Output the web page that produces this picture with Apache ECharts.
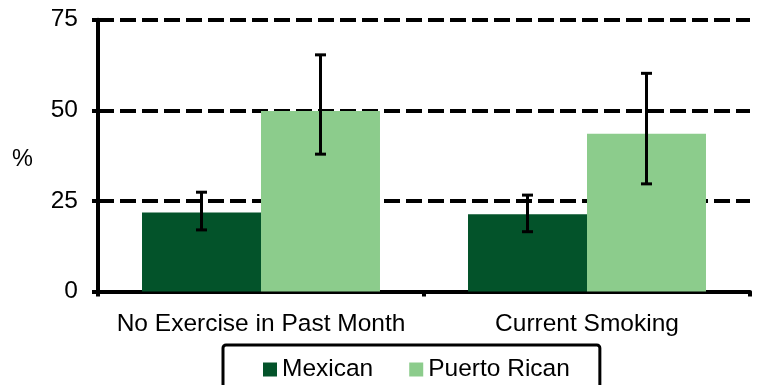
<!DOCTYPE html>
<html>
<head>
<meta charset="utf-8">
<script src="https://cdn.jsdelivr.net/npm/echarts@6/dist/echarts.min.js"></script>
<style>
  html, body { margin: 0; padding: 0; background: #fff; }
  #chart { width: 757px; height: 385px; }
</style>
</head>
<body>
<div id="chart"></div>
<script>
// Prevalence (%) by group, with 95% confidence limits
const categories = ['No Exercise in Past Month', 'Current Smoking'];
const seriesNames = ['Mexican', 'Puerto Rican'];
const mexican = [21.8, 21.3];
const mexicanLow = [17.0, 16.5];
const mexicanHigh = [27.4, 26.6];
const puertoRican = [49.8, 43.5];
const puertoRicanLow = [37.9, 29.7];
const puertoRicanHigh = [65.3, 60.2];
const yTicks = [0, 25, 50, 75];

const FONT = "'Liberation Sans', Arial, sans-serif";
const FS = 24.5;
const CAT_GAP = 0.27;

function errorData(low, high) {
  return categories.map((c, i) => [i, low[i], high[i]]);
}

// Whisker with caps, placed over the left (-1) or right (+1) bar of each group
function errorRenderer(side) {
  return function (params, api) {
    const cat = api.value(0);
    const lo = api.coord([cat, api.value(1)]);
    const hi = api.coord([cat, api.value(2)]);
    const band = api.size([1, 0])[0];
    const barW = band * (1 - CAT_GAP) / 2;
    const x = lo[0] + side * barW / 2;
    const cap = 5.5;
    const style = { stroke: '#000', lineWidth: 3 };
    return {
      type: 'group',
      children: [
        { type: 'line', shape: { x1: x, y1: hi[1], x2: x, y2: lo[1] }, style: style },
        { type: 'line', shape: { x1: x - cap, y1: hi[1], x2: x + cap, y2: hi[1] }, style: style },
        { type: 'line', shape: { x1: x - cap, y1: lo[1], x2: x + cap, y2: lo[1] }, style: style }
      ]
    };
  };
}

const chart = echarts.init(document.getElementById('chart'));
chart.setOption({
  animation: false,
  textStyle: { fontFamily: FONT },
  grid: { left: 98, right: 7, top: 19.7, bottom: 93.5, containLabel: false },
  graphic: [
    {
      type: 'text',
      left: 12,
      top: 148,
      style: { text: '%', fontFamily: FONT, fontSize: FS - 1, fill: '#000' }
    }
  ],
  legend: {
    data: seriesNames,
    left: 223,
    top: 345,
    icon: 'rect',
    itemWidth: 14,
    itemHeight: 14,
    itemGap: 36,
    padding: [12, 30, 20, 40],
    borderColor: '#000',
    borderWidth: 3,
    borderRadius: 3,
    textStyle: { fontFamily: FONT, fontSize: FS, color: '#000' }
  },
  xAxis: {
    type: 'category',
    data: categories,
    axisLine: { lineStyle: { color: '#000', width: 4 } },
    axisTick: { show: true, alignWithLabel: false, length: 5, lineStyle: { color: '#000', width: 4 } },
    axisLabel: { interval: 0, fontFamily: FONT, fontSize: FS, color: '#000', margin: 20 },
    splitLine: { show: false }
  },
  yAxis: {
    type: 'value',
    min: yTicks[0],
    max: yTicks[yTicks.length - 1],
    interval: yTicks[1] - yTicks[0],
    axisLine: { show: true, lineStyle: { color: '#000', width: 4 } },
    axisTick: { show: true, length: 6, lineStyle: { color: '#000', width: 4 } },
    axisLabel: { fontFamily: FONT, fontSize: FS, color: '#000', margin: 20 },
    splitLine: { show: true, lineStyle: { color: '#000', width: 4, type: [16, 6] } }
  },
  series: [
    {
      name: seriesNames[0],
      type: 'bar',
      data: mexican,
      barGap: '0%',
      barCategoryGap: (CAT_GAP * 100) + '%',
      itemStyle: { color: '#03532A' }
    },
    {
      name: seriesNames[1],
      type: 'bar',
      data: puertoRican,
      barGap: '0%',
      barCategoryGap: (CAT_GAP * 100) + '%',
      itemStyle: { color: '#8CCC8C' }
    },
    {
      type: 'custom',
      renderItem: errorRenderer(-1),
      data: errorData(mexicanLow, mexicanHigh),
      z: 10,
      silent: true
    },
    {
      type: 'custom',
      renderItem: errorRenderer(1),
      data: errorData(puertoRicanLow, puertoRicanHigh),
      z: 10,
      silent: true
    }
  ]
});
</script>
</body>
</html>
